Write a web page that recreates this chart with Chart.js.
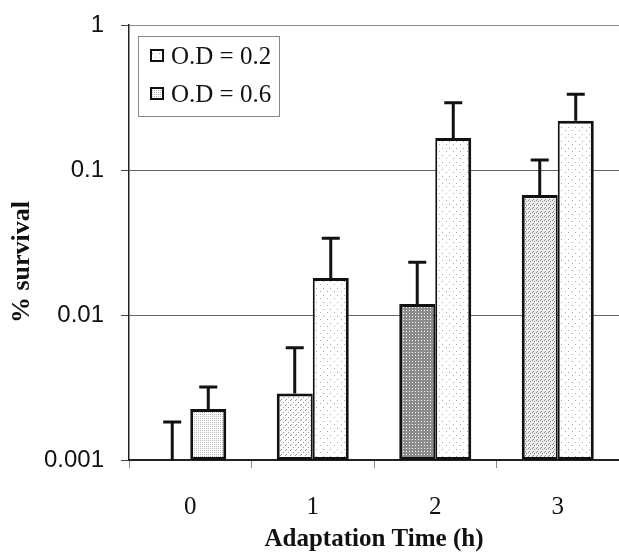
<!DOCTYPE html>
<html lang="en">
<head>
  <meta charset="UTF-8" />
  <title>% survival vs Adaptation Time</title>
  <script src="https://cdn.jsdelivr.net/npm/chart.js"></script>
  <style>
    body { margin: 0; background: #fff; }
    #wrap { width: 619px; height: 557px; }
  </style>
</head>
<body>
  <div id="wrap"><canvas id="survivalChart" width="619" height="557"></canvas></div>

  <script>
    // data (log scale)
    const hours = ['0', '1', '2', '3'];
    const od02 = [0.001, 0.00288, 0.0119, 0.0673];
    const od02Err = [0.00083, 0.00307, 0.0112, 0.050];
    const od06 = [0.00225, 0.0180, 0.166, 0.219];
    const od06Err = [0.00094, 0.0158, 0.125, 0.114];
    const yTicks = [0.001, 0.01, 0.1, 1];

    // small stipple textures, like the scanned bars
    function stipple(size, bg, dot, pts) {
      const c = document.createElement('canvas');
      c.width = size; c.height = size;
      const g = c.getContext('2d');
      g.fillStyle = bg;
      g.fillRect(0, 0, size, size);
      g.fillStyle = dot;
      pts.forEach(p => g.fillRect(p[0], p[1], 1, 1));
      return g.createPattern(c, 'repeat');
    }
    const sparse = stipple(7, '#fff', '#a8a8a8', [[1, 1], [5, 4]]);
    const speckled = stipple(5, '#fcfcfc', '#9a9a9a', [[0, 0], [3, 2], [1, 4]]);
    const dense = stipple(2, '#fff', '#b8b8b8', [[0, 0]]);
    const dark = stipple(3, '#8c8c8c', '#ffffff', [[1, 1]]);
    const medium = stipple(4, '#ececec', '#8a8a8a', [[0, 0], [2, 1], [1, 3]]);

    const errorBars = {
      id: 'errorBars',
      afterDatasetsDraw(chart) {
        const ctx = chart.ctx;
        const y = chart.scales.y;
        ctx.save();
        ctx.strokeStyle = '#111';
        ctx.lineWidth = 3;
        chart.data.datasets.forEach((ds, i) => {
          chart.getDatasetMeta(i).data.forEach((bar, j) => {
            const top = y.getPixelForValue(ds.data[j] + ds.errors[j]);
            ctx.beginPath();
            ctx.moveTo(bar.x, bar.y);
            ctx.lineTo(bar.x, top);
            ctx.moveTo(bar.x - 9, top);
            ctx.lineTo(bar.x + 9, top);
            ctx.stroke();
          });
        });
        ctx.restore();
      }
    };

    const legendBox = {
      id: 'legendBox',
      afterDraw(chart) {
        const ctx = chart.ctx;
        ctx.save();
        ctx.fillStyle = '#fff';
        ctx.fillRect(138.5, 36.5, 141, 80);
        ctx.strokeStyle = '#888';
        ctx.lineWidth = 1;
        ctx.strokeRect(138.5, 36.5, 141, 80);
        chart.data.datasets.forEach((ds, i) => {
          const cy = 56 + i * 38;
          ctx.fillStyle = ds.legendFill;
          ctx.fillRect(150, cy - 7, 14, 13);
          ctx.strokeStyle = '#111';
          ctx.lineWidth = 2;
          ctx.strokeRect(151, cy - 6, 12, 11);
          ctx.fillStyle = '#111';
          ctx.font = '25px "Liberation Serif"';
          ctx.textBaseline = 'middle';
          ctx.fillText(ds.label, 171, cy + 1);
        });

        // y axis title sits a bit below the plot centre in the original
        ctx.translate(22, 262);
        ctx.rotate(-Math.PI / 2);
        ctx.font = 'bold 26px "Liberation Serif"';
        ctx.textAlign = 'center';
        ctx.textBaseline = 'middle';
        ctx.fillStyle = '#111';
        ctx.fillText('% survival', 0, 0);
        ctx.restore();
      }
    };

    new Chart(document.getElementById('survivalChart'), {
      type: 'bar',
      data: {
        labels: hours,
        datasets: [
          {
            label: 'O.D = 0.2',
            data: od02,
            errors: od02Err,
            legendFill: sparse,
            backgroundColor: [sparse, speckled, dark, medium],
            borderColor: '#111',
            borderSkipped: false,
            borderWidth: ctx => ctx.dataIndex === 0 ? 0 : { top: 3, left: 3, right: 2, bottom: 3 }
          },
          {
            label: 'O.D = 0.6',
            data: od06,
            errors: od06Err,
            legendFill: dense,
            backgroundColor: [dense, sparse, sparse, sparse],
            borderColor: '#111',
            borderSkipped: false,
            borderWidth: ctx => ({ top: 3, left: ctx.dataIndex === 0 ? 3 : 2, right: 3, bottom: 3 })
          }
        ]
      },
      options: {
        responsive: false,
        animation: false,
        layout: { padding: { top: 25, right: 0, bottom: 0, left: 0 } },
        datasets: { bar: { categoryPercentage: 0.588, barPercentage: 1.0 } },
        plugins: {
          legend: { display: false },
          tooltip: { enabled: false }
        },
        scales: {
          x: {
            afterFit: s => { s.height = 97; },
            grid: { drawOnChartArea: false, drawTicks: true, tickLength: 8, color: '#888' },
            border: { color: '#222', width: 2 },
            ticks: { color: '#111', padding: 24, font: { family: 'Liberation Serif', size: 25 } },
            title: {
              display: true,
              text: 'Adaptation Time (h)',
              color: '#111',
              padding: { top: 0, bottom: 2 },
              font: { family: 'Liberation Serif', size: 25, weight: 'bold' }
            }
          },
          y: {
            type: 'logarithmic',
            min: 0.001,
            max: 1,
            afterFit: s => { s.width = 129; },
            afterBuildTicks: s => { s.ticks = yTicks.map(v => ({ value: v })); },
            grid: {
              color: ctx => (ctx.tick && ctx.tick.value === 1) ? '#8a8a8a' : '#666',
              tickColor: '#444',
              tickLength: 8
            },
            border: { color: '#222', width: 1.5 },
            ticks: {
              color: '#111',
              padding: 17,
              // small lineHeight keeps the label padding from pushing the plot top down
              font: { family: 'Liberation Sans', size: 24, lineHeight: 0.3 },
              callback: v => String(v)
            }
          }
        }
      },
      plugins: [errorBars, legendBox]
    });
  </script>
</body>
</html>
